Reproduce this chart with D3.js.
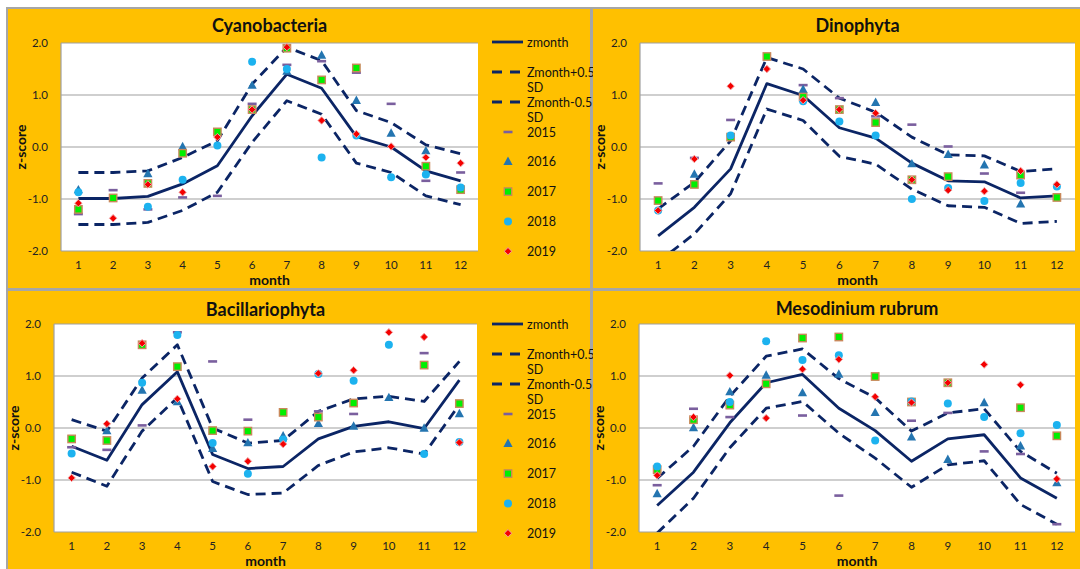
<!DOCTYPE html>
<html><head><meta charset="utf-8">
<script src="https://cdn.jsdelivr.net/npm/d3@7"></script>
<style>html,body{margin:0;padding:0;background:#fff}svg{display:block}</style>
</head><body>
<svg id="c" width="1080" height="569"></svg>
<script>
// ---------- DATA ----------
const months = [1,2,3,4,5,6,7,8,9,10,11,12];
const yTicks = [-2,-1,0,1,2];
const years = ["2015","2016","2017","2018","2019"];
const lineNames = ["zmonth","Zmonth+0.5 SD","Zmonth-0.5 SD"];

// Cyanobacteria
const cyanoZ     = [-0.99,-0.99,-0.95,-0.71,-0.36,0.60,1.40,1.13,0.20,0.00,-0.46,-0.65];
const cyanoPlus  = [-0.49,-0.49,-0.46,-0.20,0.12,1.21,1.92,1.66,0.70,0.47,0.04,-0.13];
const cyanoMinus = [-1.49,-1.49,-1.45,-1.22,-0.87,0.09,0.89,0.63,-0.31,-0.49,-0.94,-1.11];
const cyano2015 = [-1.29,-0.83,-1.20,-0.97,-0.94,0.83,1.58,1.65,1.43,0.83,-0.65,-0.49];
const cyano2016 = [-0.83,null,-0.52,0.00,null,1.18,1.45,1.76,0.89,0.26,-0.08,null];
const cyano2017 = [-1.20,-0.98,-0.70,-0.12,0.29,0.72,1.90,1.29,1.52,null,-0.37,-0.82];
const cyano2018 = [-0.87,null,-1.15,-0.63,0.03,1.64,1.50,-0.20,0.22,-0.58,-0.53,-0.78];
const cyano2019 = [-1.08,-1.37,-0.72,-0.87,0.19,0.72,1.92,0.51,0.25,0.01,-0.20,-0.31];

// Dinophyta
const dinoZ     = [-1.71,-1.16,-0.42,1.22,0.99,0.37,0.17,-0.31,-0.65,-0.67,-0.98,-0.94];
const dinoPlus  = [-1.19,-0.68,0.12,1.72,1.50,0.94,0.67,0.19,-0.15,-0.17,-0.47,-0.42];
const dinoMinus = [-2.21,-1.67,-0.90,0.73,0.51,-0.18,-0.33,-0.81,-1.13,-1.16,-1.47,-1.43];
const dino2015 = [-0.70,-0.21,0.52,null,1.19,0.94,0.59,0.43,0.01,-0.51,-0.88,null];
const dino2016 = [null,-0.53,null,null,1.10,null,0.85,-0.33,-0.15,-0.35,-1.10,null];
const dino2017 = [-1.03,-0.72,0.19,1.74,0.96,0.72,0.47,-0.63,-0.57,null,-0.54,-0.97];
const dino2018 = [-1.22,null,0.22,null,0.88,0.49,0.22,-1.00,-0.79,-1.04,-0.69,-0.76];
const dino2019 = [-1.22,-0.23,1.17,1.50,0.90,0.72,0.65,-0.63,-0.83,-0.85,-0.46,-0.72];

// Bacillariophyta
const bacZ     = [-0.35,-0.62,0.45,1.08,-0.51,-0.78,-0.74,-0.21,0.03,0.12,-0.01,0.92];
const bacPlus  = [0.16,-0.06,0.96,1.60,0.00,-0.29,-0.24,0.32,0.56,0.61,0.51,1.28];
const bacMinus = [-0.85,-1.12,-0.06,0.58,-1.03,-1.28,-1.25,-0.72,-0.46,-0.38,-0.50,0.45];
const bac2015 = [-0.37,-0.42,0.05,1.84,1.28,0.16,null,0.32,0.27,null,1.44,null];
const bac2016 = [null,-0.06,0.72,0.50,-0.40,-0.29,-0.16,0.08,0.03,0.58,-0.01,0.27];
const bac2017 = [-0.21,-0.24,1.60,1.18,-0.05,-0.06,0.30,0.21,0.48,null,1.21,0.47];
const bac2018 = [-0.49,null,0.87,1.79,-0.29,-0.88,-0.22,1.04,0.91,1.60,-0.50,-0.27];
const bac2019 = [-0.96,0.08,1.63,0.56,-0.74,-0.64,-0.31,1.05,1.11,1.84,1.75,-0.28];

// Mesodinium rubrum
const mesoZ     = [-1.49,-0.85,0.10,0.87,1.03,0.38,-0.05,-0.64,-0.21,-0.13,-0.96,-1.35];
const mesoPlus  = [-0.97,-0.35,0.61,1.38,1.52,0.95,0.58,-0.06,0.29,0.37,-0.45,-0.87];
const mesoMinus = [-2.02,-1.35,-0.38,0.38,0.51,-0.10,-0.58,-1.14,-0.71,-0.63,-1.47,-1.85];
const meso2015 = [-1.10,0.37,0.21,null,0.24,-1.30,null,0.14,0.29,-0.45,-0.50,-1.85];
const meso2016 = [-1.27,0.00,0.69,1.01,0.67,1.03,0.29,-0.18,-0.61,0.48,-0.35,-1.06];
const meso2017 = [-0.80,0.16,0.44,0.85,1.73,1.75,0.99,0.50,0.87,null,0.39,-0.15];
const meso2018 = [-0.74,null,0.50,1.67,1.31,1.40,-0.24,0.51,0.47,0.21,-0.10,0.06];
const meso2019 = [-0.91,0.21,1.01,0.19,1.13,1.32,0.60,0.49,0.87,1.22,0.83,-0.98];

// ---------- LAYOUT ----------
const panels = [
  {title:"Cyanobacteria", lines:[cyanoZ,cyanoPlus,cyanoMinus], pts:[cyano2015,cyano2016,cyano2017,cyano2018,cyano2019],
   box:[8,9,590,288], plot:{l:61,r:478,t:43,b:251}, titleY:25, legend:{x:492,y:42}},
  {title:"Dinophyta", lines:[dinoZ,dinoPlus,dinoMinus], pts:[dino2015,dino2016,dino2017,dino2018,dino2019],
   box:[593,9,1080,288], plot:{l:640,r:1075,t:43,b:251}, titleY:25, legend:null},
  {title:"Bacillariophyta", lines:[bacZ,bacPlus,bacMinus], pts:[bac2015,bac2016,bac2017,bac2018,bac2019],
   box:[8,291,590,569], plot:{l:54,r:477,t:324,b:532}, titleY:309, legend:{x:492,y:324}},
  {title:"Mesodinium rubrum", lines:[mesoZ,mesoPlus,mesoMinus], pts:[meso2015,meso2016,meso2017,meso2018,meso2019],
   box:[593,291,1080,569], plot:{l:639,r:1075,t:324,b:532}, titleY:308, legend:null}
];

const FONT = "Lato, 'Liberation Sans', sans-serif";
const NAVY = "#0B2565";
const DASH = "10,6";
const svg = d3.select("#c");
svg.append("rect").attr("x",6).attr("y",7).attr("width",1074).attr("height",562).attr("fill","#A6A6A6");

function drawMarker(g, k, x, y) {
  if (k === 0) {
    g.append("rect").attr("x",x-4.5).attr("y",y-1.3).attr("width",9).attr("height",2.6).attr("fill","#7A5F9E");
  } else if (k === 1) {
    g.append("path").attr("d",`M${x},${y-5.2}L${x+4.6},${y+3.2}L${x-4.6},${y+3.2}Z`).attr("fill","#2475B0");
  } else if (k === 2) {
    g.append("rect").attr("x",x-3.7).attr("y",y-3.7).attr("width",7.4).attr("height",7.4)
      .attr("fill","#00F000").attr("stroke","#C8885A").attr("stroke-width",1.4);
  } else if (k === 3) {
    g.append("circle").attr("cx",x).attr("cy",y).attr("r",4).attr("fill","#1CB2EF");
  } else {
    g.append("path").attr("d",`M${x},${y-3.7}L${x+3.7},${y}L${x},${y+3.7}L${x-3.7},${y}Z`)
      .attr("fill","#F40000").attr("stroke","#F2A0A0").attr("stroke-width",1);
  }
}

panels.forEach((p, pi) => {
  const [x0,y0,x1,y1] = p.box;
  const g = svg.append("g");
  g.append("rect").attr("x",x0).attr("y",y0).attr("width",x1-x0).attr("height",y1-y0).attr("fill","#FFC000");
  const P = p.plot;
  const x = d3.scaleBand().domain(months).range([P.l,P.r]);
  const cx = m => x(m) + x.bandwidth()/2;
  const y = d3.scaleLinear().domain([-2,2]).range([P.b,P.t]);

  g.append("rect").attr("x",P.l).attr("y",P.t).attr("width",P.r-P.l).attr("height",P.b-P.t).attr("fill","#fff");
  g.selectAll(".grid").data(yTicks).join("line")
    .attr("x1",P.l).attr("x2",P.r).attr("y1",d=>y(d)).attr("y2",d=>y(d))
    .attr("stroke","#A0A0A0").attr("stroke-width",1.2);
  g.append("line").attr("x1",P.l).attr("x2",P.l).attr("y1",P.t).attr("y2",P.b).attr("stroke","#A0A0A0").attr("stroke-width",1.2);

  const ya = g.append("g").attr("transform",`translate(${P.l},0)`)
    .call(d3.axisLeft(y).tickValues(yTicks).tickSize(0).tickPadding(13).tickFormat(d=>d.toFixed(1)));
  ya.select(".domain").remove();
  ya.selectAll("text").attr("font-family",FONT).attr("font-size",11.5).attr("fill","#222");
  const xa = g.append("g").attr("transform",`translate(0,${P.b})`)
    .call(d3.axisBottom(x).tickSize(0).tickPadding(10));
  xa.select(".domain").remove();
  xa.selectAll("text").attr("font-family",FONT).attr("font-size",11.5).attr("fill","#222");

  g.append("text").attr("x",(P.l+P.r)/2).attr("y",p.titleY).attr("text-anchor","middle").attr("dominant-baseline","central")
    .attr("font-family",FONT).attr("font-weight","bold").attr("font-size",18).attr("fill","#111").text(p.title);
  g.append("text").attr("x",(P.l+P.r)/2).attr("y",P.b+28).attr("text-anchor","middle").attr("dominant-baseline","central")
    .attr("font-family",FONT).attr("font-weight","bold").attr("font-size",14).attr("fill","#111").text("month");
  g.append("text").attr("transform",`translate(${P.l-41},${(P.t+P.b)/2}) rotate(-90)`).attr("text-anchor","middle")
    .attr("dominant-baseline","central").attr("font-family",FONT).attr("font-weight","bold").attr("font-size",14)
    .attr("fill","#111").text("z-score");

  const clipId = "clip"+pi;
  svg.append("clipPath").attr("id",clipId).append("rect").attr("x",P.l).attr("y",P.t-3).attr("width",P.r-P.l).attr("height",P.b-P.t+3);
  const lg = g.append("g").attr("clip-path",`url(#${clipId})`);
  const line = d3.line().x((d,i)=>cx(months[i])).y(d=>y(d));
  p.lines.forEach((arr, li) => {
    lg.append("path").attr("d",line(arr)).attr("fill","none").attr("stroke",NAVY).attr("stroke-width",2.8)
      .attr("stroke-dasharray", li===0 ? null : DASH).attr("stroke-linejoin","round");
  });
  const mg = g.append("g");
  p.pts.forEach((arr, k) => {
    arr.forEach((v, i) => { if (v !== null) drawMarker(mg, k, cx(months[i]), y(v)); });
  });

  if (p.legend) {
    const L = p.legend;
    const lgd = g.append("g").attr("font-family",FONT).attr("font-size",12.5).attr("fill","#111");
    const offs = [0,30,60];
    lineNames.forEach((nm, li) => {
      const yy = L.y + offs[li];
      lgd.append("line").attr("x1",L.x).attr("x2",L.x+31).attr("y1",yy).attr("y2",yy)
        .attr("stroke",NAVY).attr("stroke-width",2.8).attr("stroke-dasharray", li===0?null:"10,8");
      const parts = nm.split(" ");
      lgd.append("text").attr("x",L.x+35).attr("y",yy).attr("dominant-baseline","central").text(parts[0]);
      if (parts[1]) lgd.append("text").attr("x",L.x+35).attr("y",yy+15).attr("dominant-baseline","central").text(parts[1]);
    });
    years.forEach((yr, k) => {
      const yy = L.y + 90 + k*29.8;
      drawMarker(lgd, k, L.x+16, yy);
      lgd.append("text").attr("x",L.x+35).attr("y",yy).attr("dominant-baseline","central").text(yr);
    });
  }
});
</script>
</body></html>
